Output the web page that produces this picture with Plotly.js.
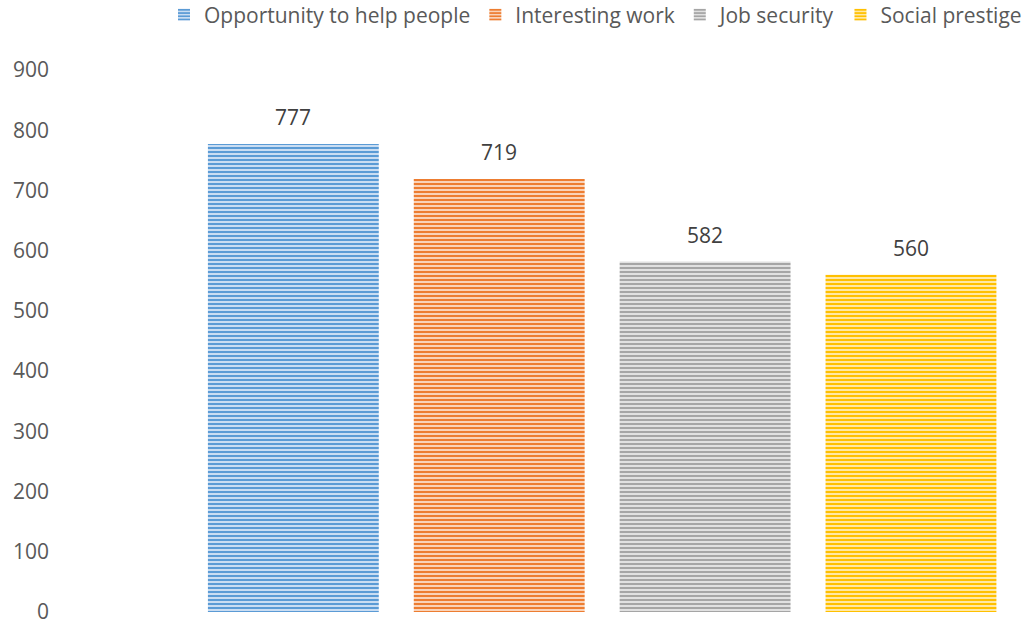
<!DOCTYPE html>
<html>
<head>
<meta charset="utf-8">
<script src="https://cdn.plot.ly/plotly-3.0.1.min.js"></script>
<style>html,body{margin:0;padding:0;background:#fff}#chart{width:1027px;height:626px}</style>
</head>
<body>
<div id="chart"></div>
<script>
const categories = ["Opportunity to help people", "Interesting work", "Job security", "Social prestige"];
const values = [777, 719, 582, 560];
const colors = ["#5B9BD5", "#ED7D31", "#A5A5A5", "#FFC000"];
const tints = ["#CADDF2", "#F9D3B9", "#E0E0E0", "#FFE8A6"];
const yTicks = [0, 100, 200, 300, 400, 500, 600, 700, 800, 900];

const FONT = "Open Sans, sans-serif";

const traces = categories.map((c, i) => ({
  type: "bar",
  name: c,
  x: [c],
  y: [values[i]],
  width: 0.83,
  marker: {
    color: colors[i],
    line: {width: 0},
    pattern: {shape: "-", size: 4, solidity: 0.5, fgcolor: colors[i], bgcolor: tints[i], fillmode: "replace", fgopacity: 1}
  },
  hoverinfo: "skip"
}));

const annotations = categories.map((c, i) => ({
  x: c, y: values[i], xref: "x", yref: "y",
  text: String(values[i]), showarrow: false,
  yanchor: "bottom", yshift: 11,
  font: {family: FONT, size: 21, color: "#404040"}
}));

const layout = {
  width: 1027, height: 626,
  margin: {l: 50, r: 10, t: 70, b: 14, pad: 0, autoexpand: false},
  paper_bgcolor: "#fff", plot_bgcolor: "#fff",
  barmode: "overlay",
  showlegend: true,
  legend: {
    orientation: "h", x: 1.0, xanchor: "right", xref: "container",
    y: 1 - 15 / 626, yanchor: "middle", yref: "container",
    font: {family: FONT, size: 21, color: "#595959"},
    traceorder: "normal", itemwidth: 30
  },
  xaxis: {
    type: "category", categoryorder: "array", categoryarray: categories,
    range: [-1.182, 3.515], showticklabels: false, showgrid: false, zeroline: false,
    showline: false, ticks: ""
  },
  yaxis: {
    range: [0, 900], tickvals: yTicks, ticktext: yTicks.map(String),
    showgrid: false, zeroline: false, showline: false, ticks: "",
    tickfont: {family: FONT, size: 21, color: "#595959"}
  },
  annotations: annotations
};

Plotly.newPlot("chart", traces, layout, {displayModeBar: false, staticPlot: true});
</script>
</body>
</html>
